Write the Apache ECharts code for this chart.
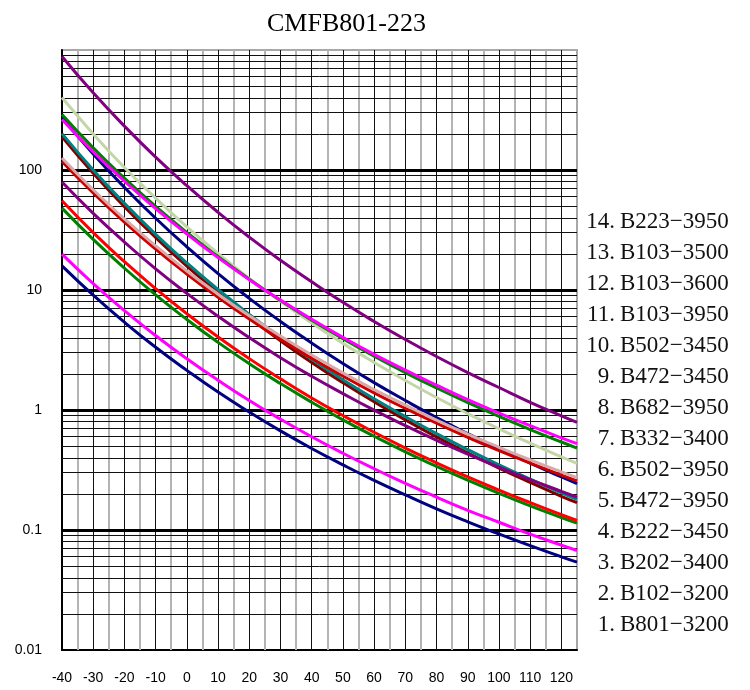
<!DOCTYPE html>
<html>
<head>
<meta charset="utf-8">
<script src="https://cdn.jsdelivr.net/npm/echarts@6/dist/echarts.min.js"></script>
<style>html,body{margin:0;padding:0;background:#fff;}#c{width:750px;height:690px;}</style>
</head>
<body>
<div id="c"></div>
<script>
const temps = [-40,-30,-20,-10,0,10,20,30,40,50,60,70,80,90,100,110,120,125];
const names = ['B801-3200','B102-3200','B202-3400','B222-3450','B472-3950','B502-3950','B332-3400','B682-3950','B472-3450','B502-3450','B103-3950','B103-3600','B103-3500','B223-3950'];
const s1 = [15.9,9.06,5.39,3.33,2.14,1.41,0.961,0.670,0.478,0.349,0.259,0.196,0.150,0.117,0.0926,0.0740,0.0598,0.0540];
const s2 = [19.9,11.3,6.74,4.17,2.67,1.77,1.20,0.838,0.598,0.436,0.324,0.245,0.188,0.146,0.116,0.0924,0.0748,0.0675];
const s3 = [48.1,26.4,15.2,9.11,5.68,3.66,2.43,1.66,1.16,0.828,0.604,0.448,0.339,0.260,0.202,0.159,0.127,0.114];
const s4 = [55.4,30.1,17.2,10.25,6.34,4.06,2.68,1.82,1.26,0.899,0.652,0.482,0.363,0.277,0.215,0.169,0.134,0.120];
const s5 = [189,94.1,49.5,27.4,15.8,9.48,5.89,3.78,2.49,1.69,1.17,0.827,0.597,0.439,0.328,0.249,0.191,0.169];
const s6 = [201,100,52.7,29.1,16.8,10.09,6.27,4.02,2.65,1.79,1.24,0.880,0.635,0.467,0.349,0.265,0.204,0.180];
const s7 = [79.3,43.5,25.1,15.0,9.37,6.04,4.01,2.73,1.91,1.37,0.996,0.740,0.559,0.429,0.334,0.263,0.210,0.188];
const s8 = [273,136,71.7,39.6,22.9,13.7,8.52,5.47,3.61,2.44,1.69,1.20,0.864,0.635,0.475,0.360,0.277,0.244];
const s9 = [118,64.4,36.8,21.9,13.6,8.68,5.73,3.88,2.70,1.92,1.39,1.03,0.776,0.592,0.459,0.361,0.287,0.257];
const s10 = [126,68.5,39.1,23.3,14.4,9.23,6.09,4.13,2.87,2.04,1.48,1.10,0.825,0.630,0.489,0.384,0.305,0.273];
const s11 = [402,200,105,58.3,33.6,20.2,12.5,8.04,5.30,3.59,2.49,1.76,1.27,0.934,0.698,0.529,0.407,0.359];
const s12 = [290,153,85.5,49.8,30.2,19.0,12.3,8.19,5.61,3.93,2.81,2.05,1.525,1.152,0.883,0.687,0.541,0.482];
const s13 = [264,142,80.6,47.7,29.3,18.6,12.2,8.24,5.70,4.03,2.91,2.15,1.61,1.22,0.945,0.740,0.586,0.524];
const s14 = [884,440,232,128,74.0,44.4,27.6,17.7,11.7,7.89,5.47,3.87,2.79,2.05,1.54,1.16,0.895,0.790];
const seriesValues = [s1,s2,s3,s4,s5,s6,s7,s8,s9,s10,s11,s12,s13,s14];
const colors = ['#000080','#ff00ff','#008000','#ff0000','#800000','#008080','#800080','#000080','#cc0000','#dba8a8','#c4d6a8','#008000','#ff00ff','#800080'];
const xTickLabels = [-40,-30,-20,-10,0,10,20,30,40,50,60,70,80,90,100,110,120];
const yTickLabels = ['0.01','0.1','1','10','100'];
const xMajorGrid = [-30,-20,-10,0,10,20,30,40,50,60,70,80,90,100,110,120];
const xMinorGrid = [-35,-25,-15,-5,5,15,25,35,45,55,65,75,85,95,105,115];
const yDecadeGrid = [0.1,1,10,100];
const yMinorGrid = [];
[0.01,0.1,1,10,100].forEach(d => { for (let k = 2; k <= 9; k++) yMinorGrid.push(+(d*k).toPrecision(3)); });

const chart = echarts.init(document.getElementById('c'));
const gridLines = []
  .concat(xMinorGrid.map(v => ({xAxis: v, lineStyle: {color: '#b4b4b4', width: 2, type: 'solid'}})))
  .concat(yMinorGrid.map(v => ({yAxis: v, lineStyle: {color: '#111', width: 1, type: 'solid'}})))
  .concat(xMajorGrid.map(v => ({xAxis: v, lineStyle: {color: '#111', width: 1, type: 'solid'}})))
  .concat(yDecadeGrid.map(v => ({yAxis: v, lineStyle: {color: '#000', width: 3, type: 'solid'}})));

const series = [{
  type: 'line', data: [], z: 1, silent: true,
  markLine: {z: 1, silent: true, symbol: ['none','none'], label: {show: false}, animation: false, data: gridLines}
}];
seriesValues.forEach((vals, i) => {
  series.push({
    name: names[i], type: 'line', z: 3, smooth: true, showSymbol: false, symbol: 'none',
    data: temps.map((t, j) => [t, vals[j]]),
    lineStyle: {color: colors[i], width: 3},
    itemStyle: {color: colors[i]}
  });
});

const labelTexts = [];
names.forEach((n, i) => {
  const y = 625 - i * 31.0;
  labelTexts.push({type: 'text', x: 615, y: y, silent: true, style: {text: (i + 1) + '.', font: '23px "Liberation Serif"', fill: '#111', align: 'right', verticalAlign: 'middle'}});
  labelTexts.push({type: 'text', x: 620, y: y, silent: true, style: {text: n.replace('-', '\u2212'), font: '23px "Liberation Serif"', fill: '#111', align: 'left', verticalAlign: 'middle'}});
});

chart.setOption({
  animation: false,
  backgroundColor: '#fff',
  title: {text: 'CMFB801-223', left: 262, top: 6, textStyle: {fontFamily: 'Liberation Serif', fontWeight: 'normal', fontSize: 26, color: '#000'}},
  grid: {left: 62, right: 173, top: 50, bottom: 40, show: true, borderColor: '#a8a8a8', borderWidth: 2, backgroundColor: 'transparent'},
  xAxis: {
    type: 'value', min: -40, max: 125, interval: 10,
    axisLine: {show: true, onZero: false, lineStyle: {color: '#000', width: 2}},
    axisTick: {show: false}, splitLine: {show: false},
    axisLabel: {margin: 21, fontFamily: 'Liberation Sans', fontSize: 14, color: '#000', showMaxLabel: false,
      formatter: v => xTickLabels.indexOf(v) >= 0 ? String(v) : ''}
  },
  yAxis: {
    type: 'log', logBase: 10, min: 0.01, max: 1000,
    axisLine: {show: true, onZero: false, lineStyle: {color: '#000', width: 2}},
    axisTick: {show: false}, splitLine: {show: false},
    axisLabel: {margin: 20, fontFamily: 'Liberation Sans', fontSize: 14, color: '#000',
      formatter: v => { const s = String(+v.toPrecision(3)); return yTickLabels.indexOf(s) >= 0 ? s : ''; }}
  },
  graphic: {elements: labelTexts},
  series: series
});
</script>
</body>
</html>
